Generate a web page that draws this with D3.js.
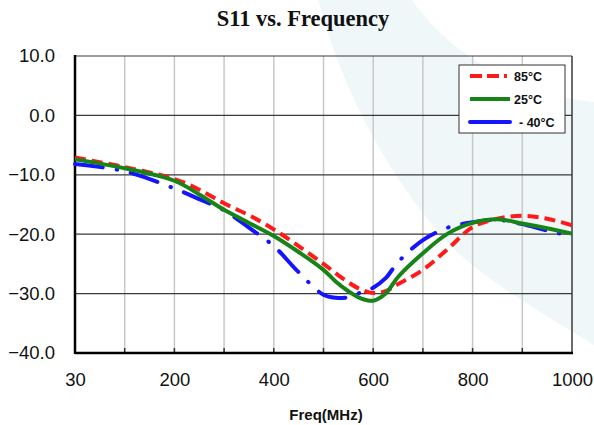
<!DOCTYPE html>
<html>
<head>
<meta charset="utf-8">
<script src="https://cdn.jsdelivr.net/npm/d3@7"></script>
<style>
  body { margin: 0; background: #fff; }
  svg { display: block; }
</style>
</head>
<body>
<div id="chart"></div>
<script>
// S11 vs frequency, three temperatures

var freqs   = [30, 115, 200, 250, 300, 350, 400, 450, 500, 525, 550, 575, 600, 625, 650, 700, 750, 800, 850, 900, 950, 1000];
var s11_85  = [-7.1, -8.7, -10.7, -12.5, -14.8, -16.8, -19.2, -22.0, -25.0, -26.6, -28.1, -29.3, -29.9, -29.6, -28.4, -26.0, -22.5, -18.8, -17.4, -16.9, -17.4, -18.5];
var s11_25  = [-7.4, -8.9, -11.0, -13.3, -15.9, -18.1, -20.3, -23.0, -26.0, -28.0, -29.6, -30.8, -31.2, -30.0, -27.2, -23.2, -19.9, -18.1, -17.5, -18.2, -19.0, -19.9];
var s11_m40 = [-8.2, -9.4, -12.3, -14.1, -16.0, -18.9, -22.0, -26.4, -30.2, -30.7, -30.6, -29.8, -29.0, -27.4, -24.7, -21.0, -18.9, -18.0, -17.6, -18.3, -19.4, -20.3];

var seriesNames = ['85°C', '25°C', '- 40°C'];
var xTicks = [30, 200, 400, 600, 800, 1000];
var xMinor = [115, 300, 500, 700, 900];
var yTicks = [10, 0, -10, -20, -30, -40];

var svgWidth = 594, svgHeight = 425;
var margin = {left: 75, right: 22, top: 56, bottom: 72};
var width = svgWidth - margin.left - margin.right;
var height = svgHeight - margin.top - margin.bottom;

var svg = d3.select('#chart').append('svg')
  .attr('width', svgWidth)
  .attr('height', svgHeight);

// faint background swoosh
svg.append('path')
  .attr('d', 'M318,0 L412,0 C450,55 520,95 594,102 L594,345 C555,320 490,285 450,245 C395,185 345,100 318,0 Z')
  .attr('fill', '#f0f7f9');

svg.append('text')
  .attr('x', 303)
  .attr('y', 26)
  .attr('text-anchor', 'middle')
  .style('font-family', '"Liberation Serif", "Times New Roman", serif')
  .style('font-weight', 'bold')
  .style('font-size', '22.5px')
  .attr('fill', '#111')
  .text('S11 vs. Frequency');

var g = svg.append('g')
  .attr('transform', 'translate(' + margin.left + ',' + margin.top + ')');

// category-like x axis: equal spacing between labelled ticks
var xScale = d3.scaleLinear()
  .domain(xTicks)
  .range(xTicks.map(function(d, i) { return i * width / (xTicks.length - 1); }));

var yScale = d3.scaleLinear()
  .domain([-40, 10])
  .range([height, 0]);

// vertical grid
var vLines = xTicks.concat(xMinor).filter(function(d) { return d !== 30 && d !== 1000; });
g.selectAll('.vgrid').data(vLines).enter()
  .append('line')
  .attr('x1', function(d) { return xScale(d); })
  .attr('x2', function(d) { return xScale(d); })
  .attr('y1', 0)
  .attr('y2', height)
  .attr('stroke', '#c8c8c8')
  .attr('stroke-width', 1.5);

// small inside ticks on bottom axis
g.selectAll('.btick').data(vLines).enter()
  .append('line')
  .attr('x1', function(d) { return xScale(d); })
  .attr('x2', function(d) { return xScale(d); })
  .attr('y1', height - 5)
  .attr('y2', height)
  .attr('stroke', '#333')
  .attr('stroke-width', 1.5);

// horizontal grid
g.selectAll('.hgrid').data(yTicks).enter()
  .append('line')
  .attr('x1', 0)
  .attr('x2', width)
  .attr('y1', function(d) { return yScale(d); })
  .attr('y2', function(d) { return yScale(d); })
  .attr('stroke', '#3a3a3a')
  .attr('stroke-width', 1.2);

// right border
g.append('line')
  .attr('x1', width).attr('x2', width)
  .attr('y1', 0).attr('y2', height)
  .attr('stroke', '#3a3a3a')
  .attr('stroke-width', 1.5);

// axes lines
g.append('line')
  .attr('x1', 0).attr('x2', 0)
  .attr('y1', -1).attr('y2', height + 1)
  .attr('stroke', '#000')
  .attr('stroke-width', 2.5);
g.append('line')
  .attr('x1', 0).attr('x2', width + 1)
  .attr('y1', height).attr('y2', height)
  .attr('stroke', '#000')
  .attr('stroke-width', 2.5);

// tick labels
var yAxis = d3.axisLeft(yScale)
  .tickValues(yTicks)
  .tickSize(0)
  .tickPadding(20)
  .tickFormat(d3.format('.1f'));

g.append('g').call(yAxis)
  .call(function(s) { s.select('.domain').remove(); })
  .selectAll('text')
  .style('font-family', '"Liberation Sans", Arial, sans-serif')
  .style('font-size', '18.5px')
  .attr('fill', '#111');

var xAxis = d3.axisBottom(xScale)
  .tickValues(xTicks)
  .tickSize(0)
  .tickPadding(20)
  .tickFormat(d3.format('d'));

g.append('g')
  .attr('transform', 'translate(0,' + height + ')')
  .call(xAxis)
  .call(function(s) { s.select('.domain').remove(); })
  .selectAll('text')
  .style('font-family', '"Liberation Sans", Arial, sans-serif')
  .style('font-size', '18.5px')
  .attr('fill', '#111');

svg.append('text')
  .attr('x', 326)
  .attr('y', 420)
  .attr('text-anchor', 'middle')
  .style('font-family', '"Liberation Sans", Arial, sans-serif')
  .style('font-weight', 'bold')
  .style('font-size', '15px')
  .attr('fill', '#111')
  .text('Freq(MHz)');

// curves
var series = [
  {name: seriesNames[0], values: s11_85,  color: '#ff1a1a', dash: '11,6',          cap: 'butt'},
  {name: seriesNames[1], values: s11_25,  color: '#178417', dash: null,            cap: 'butt'},
  {name: seriesNames[2], values: s11_m40, color: '#1414ff', dash: '28,14,0.5,14',  cap: 'round'}
];

var line = d3.line()
  .x(function(d) { return xScale(d[0]); })
  .y(function(d) { return yScale(d[1]); })
  .curve(d3.curveCatmullRom.alpha(0.5));

var plotOrder = [2, 0, 1];
plotOrder.forEach(function(k) {
  var s = series[k];
  g.append('path')
    .datum(freqs.map(function(f, i) { return [f, s.values[i]]; }))
    .attr('d', line)
    .attr('fill', 'none')
    .attr('stroke', s.color)
    .attr('stroke-width', 4)
    .attr('stroke-linecap', s.cap)
    .attr('stroke-dasharray', s.dash);
});

// legend
var lg = svg.append('g').attr('transform', 'translate(459,65)');
lg.append('rect')
  .attr('width', 106)
  .attr('height', 68)
  .attr('fill', '#fff')
  .attr('stroke', '#333')
  .attr('stroke-width', 1);

var legendDash = ['12,5,12,5,3,20', null, null];
series.forEach(function(s, i) {
  var yy = 11 + i * 23;
  lg.append('line')
    .attr('x1', 11).attr('x2', 51)
    .attr('y1', yy).attr('y2', yy)
    .attr('stroke', s.color)
    .attr('stroke-width', 4)
    .attr('stroke-linecap', i === 2 ? 'round' : 'butt')
    .attr('stroke-dasharray', legendDash[i]);
  lg.append('text')
    .attr('x', i === 2 ? 60 : 55)
    .attr('y', yy + 4.5)
    .style('font-family', '"Liberation Sans", Arial, sans-serif')
    .style('font-weight', 'bold')
    .style('font-size', '12.5px')
    .attr('fill', '#111')
    .text(i === 2 ? '- 40°C' : s.name);
});
</script>
</body>
</html>
